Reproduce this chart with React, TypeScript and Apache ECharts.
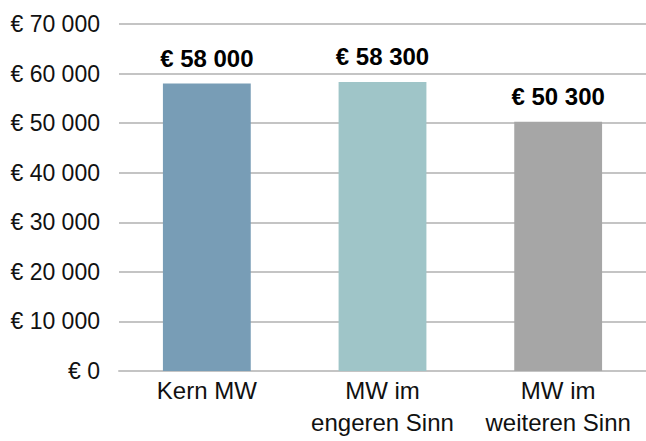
import React, { useEffect, useRef } from "react";
import * as echarts from "echarts";

const categories = ["Kern MW", "MW im\nengeren Sinn", "MW im\nweiteren Sinn"];
const values = [58000, 58300, 50300];
const barColors = ["#789db6", "#9fc5c8", "#a6a6a6"];
const yMin = 0;
const yMax = 70000;
const yInterval = 10000;

function fmtEuro(v: number): string {
  const s = Math.round(v).toString().replace(/\B(?=(\d{3})+(?!\d))/g, " ");
  return "€ " + s;
}

export default function App() {
  const ref = useRef<HTMLDivElement>(null);
  useEffect(() => {
    if (!ref.current) return;
    const chart = echarts.init(ref.current, undefined, { renderer: "svg" });
    chart.setOption({
      animation: false,
      textStyle: { fontFamily: "Liberation Sans, Arial, sans-serif" },
      grid: { left: 119, right: 0, top: 24, bottom: 70, containLabel: false },
      xAxis: {
        type: "category",
        data: categories,
        axisLine: { lineStyle: { color: "#c4c4c4", width: 2 } },
        axisTick: { show: false },
        axisLabel: {
          color: "#111",
          fontSize: 24,
          margin: 3,
          lineHeight: 32,
          interval: 0,
        },
      },
      yAxis: {
        type: "value",
        min: yMin,
        max: yMax,
        interval: yInterval,
        axisLine: { show: false },
        axisTick: { show: false },
        axisLabel: {
          color: "#111",
          fontSize: 23,
          margin: 19,
          formatter: (v: number) => fmtEuro(v),
        },
        splitLine: { lineStyle: { color: "#c4c4c4", width: 2 } },
      },
      series: [
        {
          type: "bar",
          barWidth: "50%",
          data: values.map((v, i) => ({ value: v, itemStyle: { color: barColors[i] } })),
          label: {
            show: true,
            position: "top",
            distance: 13,
            color: "#000",
            fontSize: 24,
            fontWeight: "bold",
            formatter: (p: any) => fmtEuro(p.value),
          },
        },
      ],
    });
    return () => chart.dispose();
  }, []);
  return (
    <div
      ref={ref}
      style={{ position: "fixed", left: 0, top: 0, width: 646, height: 441, background: "#fff" }}
    />
  );
}
